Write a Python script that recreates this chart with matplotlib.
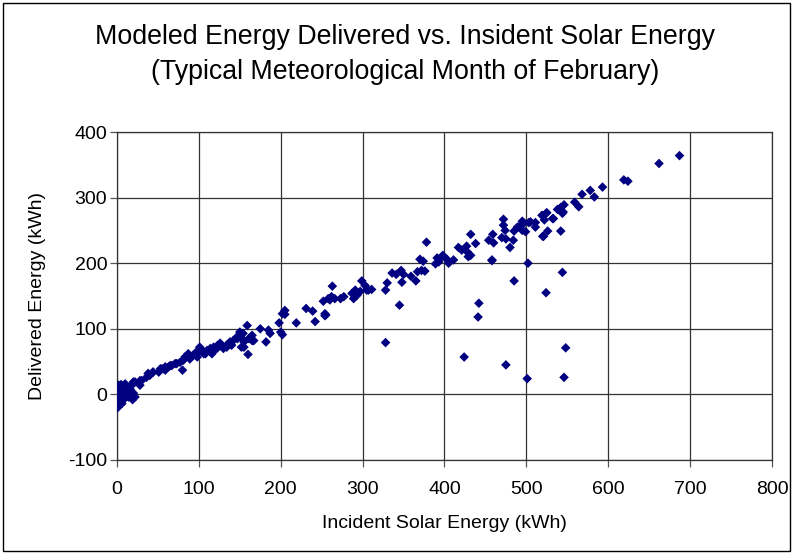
import matplotlib
matplotlib.use('Agg')
import matplotlib.pyplot as plt
from matplotlib.patches import Rectangle

plt.rcParams['font.family'] = ['Liberation Sans', 'DejaVu Sans']
plt.rcParams['axes.unicode_minus'] = False

# incident solar energy (kWh) and delivered energy (kWh)
incident = [
    # cluster near origin
    0, 0, 1, 2, 0, 1, 0, 2, 0, 1, 3, 4, 5, 4, 5, 6, 7, 8, 9, 10,
    11, 12, 14, 15, 17, 18, 20, 3, 6, 8, 2, 5, 10, 13, 16, 22, 19, 0, 0, 1,
    # rising band 0-200
    8, 12, 16, 18, 22, 28, 30, 36, 40, 44, 51, 55, 59, 63, 67, 73, 77, 80, 81, 87,
    89, 93, 98, 100, 102, 106, 110, 116, 118, 122, 126, 130, 134, 138, 140, 142, 147, 151, 153, 155,
    155, 160, 161, 165, 167, 159, 175, 185, 187, 182, 10, 20, 28, 38, 44, 53, 59, 65, 71, 83,
    95, 99, 101, 108, 114, 120, 123, 146, 150, 154, 163, 152, 165, 134, 126, 118, 114,
    # 200-330
    198, 202, 205, 205, 200, 202, 219, 231, 239, 242, 255, 252, 258, 254, 260, 262, 263, 266, 273, 277,
    287, 289, 291, 293, 297, 299, 303, 305, 307, 311, 328, 330, 336, 341, 347, 348, 350, 359, 365,
    # 330-480
    367, 370, 372, 374, 376, 378, 389, 391, 393, 397, 398, 403, 405, 411, 417, 421, 427, 428, 429, 432,
    432, 438, 454, 459, 460, 458, 470, 472, 472, 474, 475, 480, 484, 485, 489, 493, 495, 499, 503,
    # 480-600
    497, 505, 511, 511, 519, 520, 522, 524, 525, 532, 533, 538, 542, 542, 544, 545, 546, 559, 564, 568,
    578, 583, 593, 619, 624, 662, 687, 521, 526, 495,
    # outliers
    328, 345, 442, 441, 424, 475, 501, 548, 546, 502, 544, 485, 524, 458, 254,
]
delivered = [
    -18, -15, -12, -8, -5, -2, 0, 3, 6, 9, 12, -10, -5, 0, 5, 10, -3, 2, -6, 0,
    5, -2, -4, 3, -1, -5, 2, -16, -14, -8, 14, 15, 12, 10, 8, -4, -8, 10, 3, -20,
    9, 6, 4, 14, 19, 14, 21, 26, 29, 34, 34, 39, 37, 42, 44, 47, 49, 37, 52, 62,
    54, 60, 57, 65, 70, 62, 67, 62, 67, 70, 77, 70, 72, 80, 75, 82, 85, 93, 85, 80,
    72, 61, 85, 90, 82, 105, 100, 98, 93, 80, 16, 19, 21, 32, 34, 39, 42, 44, 47, 57,
    62, 67, 72, 62, 67, 70, 75, 87, 95, 93, 87, 72, 82, 75, 78, 72, 70,
    109, 123, 128, 122, 95, 91, 109, 131, 127, 111, 121, 142, 146, 123, 144, 149, 165, 146, 146, 149,
    154, 146, 159, 151, 157, 173, 166, 159, 159, 160, 159, 170, 185, 183, 189, 171, 183, 180, 173,
    187, 206, 189, 203, 188, 232, 199, 208, 202, 210, 212, 206, 200, 205, 224, 220, 226, 217, 210, 212,
    244, 230, 235, 244, 231, 205, 239, 267, 258, 250, 237, 224, 235, 249, 255, 258, 264, 248, 262,
    261, 263, 262, 255, 273, 241, 266, 276, 277, 268, 268, 282, 285, 249, 276, 278, 289, 293, 286, 305,
    311, 301, 316, 327, 325, 352, 364, 241, 249, 250,
    79, 136, 139, 118, 57, 45, 24, 71, 26, 200, 186, 173, 155, 204, 120,
]

x_ticks = [0, 100, 200, 300, 400, 500, 600, 700, 800]
y_ticks = [-100, 0, 100, 200, 300, 400]

fig = plt.figure(figsize=(7.93, 5.54), dpi=100)
ax = fig.add_axes([117 / 793, 1 - 460 / 554, (772 - 117) / 793, (460 - 132) / 554])

ax.scatter(incident, delivered, marker='D', s=24, color='#000080',
           edgecolors='none', zorder=3)

ax.set_xlim(0, 800)
ax.set_ylim(-100, 400)
ax.set_xticks(x_ticks)
ax.set_yticks(y_ticks)
ax.grid(True, color='#333333', linewidth=0.9, zorder=0)
for s in ax.spines.values():
    s.set_color('#333333')
    s.set_linewidth(0.9)
ax.tick_params(direction='out', length=5, width=0.9, labelsize=14,
               color='#555555')
ax.tick_params(axis='x', pad=10)
ax.tick_params(axis='y', pad=2)

# axis titles placed like the Excel original
ax.text(0.5, -0.195, 'Incident Solar Energy (kWh)', transform=ax.transAxes,
        ha='center', va='center', fontsize=14)
ax.text(-0.122, 0.5, 'Delivered Energy (kWh)', transform=ax.transAxes,
        ha='center', va='center', rotation=90, fontsize=14)

fig.text(0.511, 1 - 37 / 554, 'Modeled Energy Delivered vs. Insident Solar Energy',
         ha='center', va='center', fontsize=19.3)
fig.text(0.511, 1 - 72 / 554, '(Typical Meteorological Month of February)',
         ha='center', va='center', fontsize=19.3)

# thin frame round the whole chart
fig.patches.append(Rectangle((3 / 793, 3 / 554), 787 / 793, 548 / 554,
                             transform=fig.transFigure, fill=False,
                             edgecolor='#000000', linewidth=1.0))

fig.savefig('out.png', dpi=100, facecolor='white')
